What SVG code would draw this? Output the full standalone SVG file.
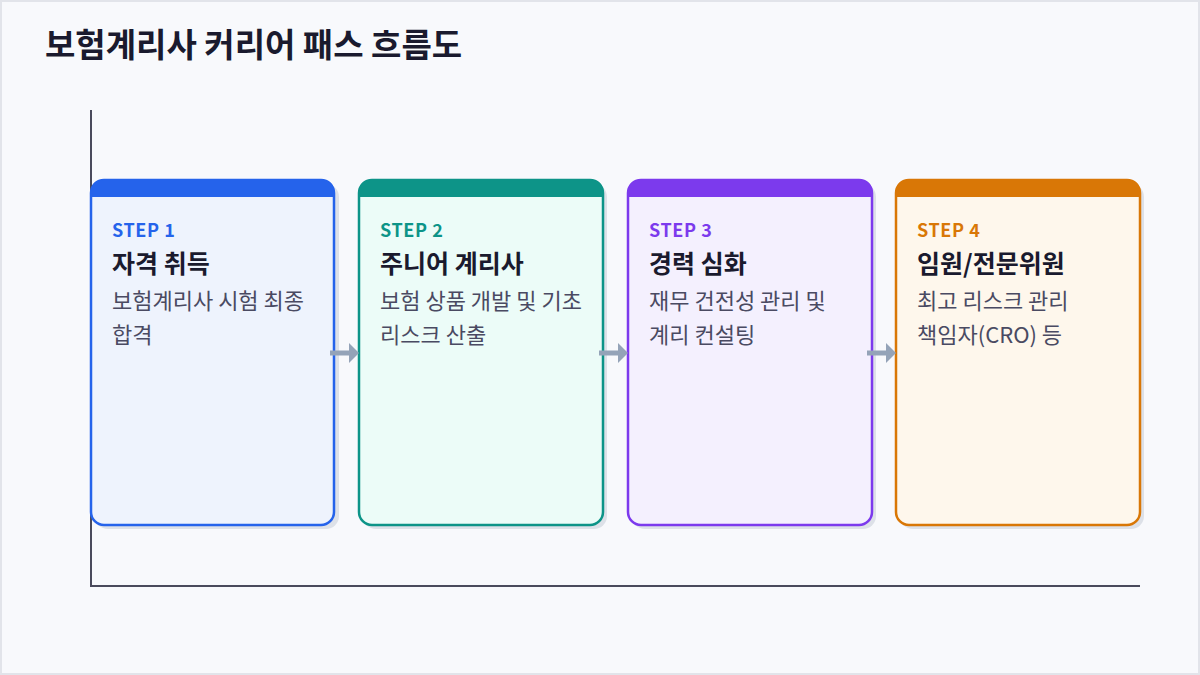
<svg xmlns="http://www.w3.org/2000/svg" width="1200" height="675" viewBox="0 0 1200 675">
<defs>
<style>
.bg{fill:#f8f9fc;stroke:#e2e4ea;stroke-width:2}
.axis{stroke:#4a4a5c;stroke-width:2;fill:none}
.shadow{fill:#dde1e8}
.card{stroke-width:2.5}
.step{font-family:"Noto Sans CJK KR","Noto Sans",sans-serif;font-size:18px;font-weight:700;letter-spacing:0.6px}
.ttl{font-family:"Noto Sans CJK KR","Noto Sans",sans-serif;font-size:25px;font-weight:700;fill:#1a1a2e}
.desc{font-family:"Noto Sans CJK KR","Noto Sans",sans-serif;font-size:22px;fill:#4a4a62}
.head{font-family:"Noto Sans CJK KR","Noto Sans",sans-serif;font-size:33px;font-weight:700;fill:#1a1a2e}
.arr{stroke:#94a3b8;stroke-width:5;fill:none}
.arrh{fill:#94a3b8}
</style>
</defs>
<rect class="bg" x="1" y="1" width="1198" height="673"/>
<text class="head" x="45" y="57">보험계리사 커리어 패스 흐름도</text>
<g id="axes">
<path class="axis" d="M91,110 V586 H1140"/>
</g>
<g id="card1">
<rect class="shadow" x="95" y="184" width="244" height="345" rx="13"/>
<rect class="card" x="91" y="180" width="243" height="345" rx="13" fill="#eef3fd" stroke="#2563eb"/>
<path d="M91,197 V192 Q91,180 103,180 H322 Q334,180 334,192 V197 Z" fill="#2563eb"/>
<text class="step" x="112" y="237" fill="#2563eb">STEP 1</text>
<text class="ttl" x="112" y="273">자격 취득</text>
<text class="desc" x="112" y="309">보험계리사 시험 최종</text>
<text class="desc" x="112" y="343">합격</text>
</g>
<g id="card2">
<rect class="shadow" x="363" y="184" width="244" height="345" rx="13"/>
<rect class="card" x="359" y="180" width="244" height="345" rx="13" fill="#ecfcf8" stroke="#0d9488"/>
<path d="M359,197 V192 Q359,180 371,180 H591 Q603,180 603,192 V197 Z" fill="#0d9488"/>
<text class="step" x="380" y="237" fill="#0d9488">STEP 2</text>
<text class="ttl" x="380" y="273">주니어 계리사</text>
<text class="desc" x="380" y="309">보험 상품 개발 및 기초</text>
<text class="desc" x="380" y="343">리스크 산출</text>
</g>
<g id="card3">
<rect class="shadow" x="632" y="184" width="244" height="345" rx="13"/>
<rect class="card" x="628" y="180" width="244" height="345" rx="13" fill="#f4f0fe" stroke="#7c3aed"/>
<path d="M628,197 V192 Q628,180 640,180 H860 Q872,180 872,192 V197 Z" fill="#7c3aed"/>
<text class="step" x="649" y="237" fill="#7c3aed">STEP 3</text>
<text class="ttl" x="649" y="273">경력 심화</text>
<text class="desc" x="649" y="309">재무 건전성 관리 및</text>
<text class="desc" x="649" y="343">계리 컨설팅</text>
</g>
<g id="card4">
<rect class="shadow" x="900" y="184" width="244" height="345" rx="13"/>
<rect class="card" x="896" y="180" width="244" height="345" rx="13" fill="#fef7ec" stroke="#d97706"/>
<path d="M896,197 V192 Q896,180 908,180 H1128 Q1140,180 1140,192 V197 Z" fill="#d97706"/>
<text class="step" x="917" y="237" fill="#d97706">STEP 4</text>
<text class="ttl" x="917" y="273">임원/전문위원</text>
<text class="desc" x="917" y="309">최고 리스크 관리</text>
<text class="desc" x="917" y="343">책임자(CRO) 등</text>
</g>
<g id="connectors">
<line class="arr" x1="330" y1="353" x2="350" y2="353"/>
<polygon class="arrh" points="349,343 359,353 349,363"/>
<line class="arr" x1="599" y1="353" x2="619" y2="353"/>
<polygon class="arrh" points="618,343 628,353 618,363"/>
<line class="arr" x1="867" y1="353" x2="887" y2="353"/>
<polygon class="arrh" points="886,343 896,353 886,363"/>
</g>
</svg>
